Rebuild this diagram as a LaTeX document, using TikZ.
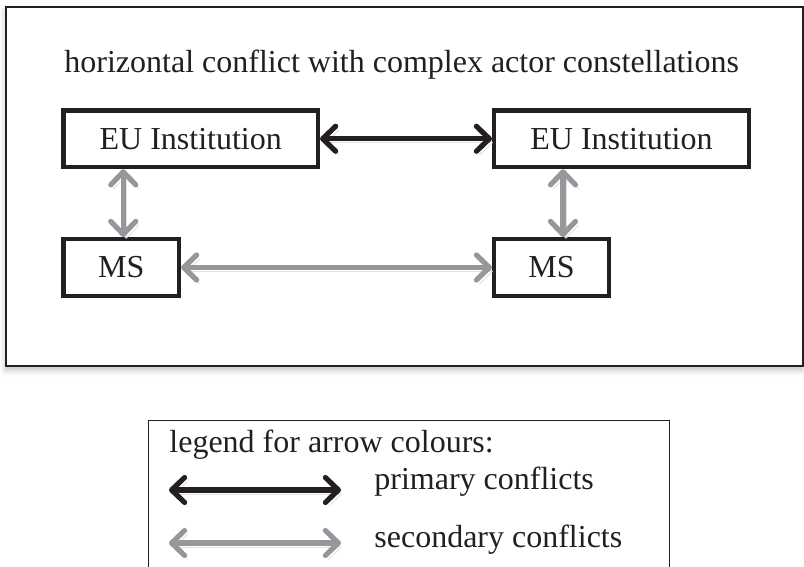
\documentclass[tikz,border=0pt]{standalone}
\usepackage{fontspec}
\setmainfont{Liberation Serif}
\usetikzlibrary{arrows.meta,shadows.blur}
\definecolor{ink}{RGB}{35,31,32}
\definecolor{arrgray}{RGB}{150,151,154}
\begin{document}
\begin{tikzpicture}[x=0.5pt,y=-0.5pt,
  font=\fontsize{16}{19}\selectfont,
  actor/.style={draw=ink, line width=2.2pt, inner sep=0pt, minimum height=28.3pt, text=ink},
  tipbarb/.tip={Straight Barb[length=6.5pt,width=12.5pt,round]},
  conn/.style={line width=2.6pt, tipbarb-tipbarb,
    preaction={draw=black!12, transform canvas={shift={(1.5pt,-2pt)}}}},
  prim/.style={conn, draw=ink},
  sec/.style={conn, draw=arrgray},
  lbl/.style={anchor=base west, inner sep=0pt, text=ink}]
\useasboundingbox (0,0) rectangle (804,567);
% outer frame
\draw[ink, line width=1pt, fill=white,
  blur shadow={shadow xshift=0pt, shadow yshift=-2pt, shadow blur radius=3pt, shadow opacity=25}]
  (5.5,7) rectangle (802.5,366);
\node[lbl] (title) at (64,73) {horizontal conflict with complex actor constellations};
% actors
\node[actor, minimum width=127.1pt] (EUL) at (190.75,138.75) {EU Institution};
\node[actor, minimum width=127.3pt] (EUR) at (621.5,138.75)  {EU Institution};
\node[actor, minimum width=57.6pt]  (MSL) at (121.25,267.5)  {MS};
\node[actor, minimum width=57.3pt]  (MSR) at (551.5,267.5)   {MS};
% conflicts
\draw[prim] (EUL) -- (EUR);
\draw[sec] (MSL) -- (MSR);
\draw[sec] ([xshift=1pt]MSL.north) -- ([xshift=1pt]MSL.north |- EUL.south);
\draw[sec] ([xshift=5.75pt]MSR.north) -- ([xshift=5.75pt]MSR.north |- EUR.south);
% legend
\node[draw=ink, line width=0.6pt, minimum width=260.5pt, minimum height=100pt,
  anchor=north west, inner sep=0pt] (legend) at (148,420) {};
\node[lbl] (legtitle) at (169,452) {legend for arrow colours:};
\coordinate (p1) at (169,490);
\coordinate (p2) at (341,490);
\draw[prim] (p1) -- (p2);
\node[lbl] (ptext) at (374,489) {primary conflicts};
\coordinate (s1) at (169,543);
\coordinate (s2) at (341,543);
\draw[sec] (s1) -- (s2);
\node[lbl] (stext) at (374,547) {secondary conflicts};
\end{tikzpicture}
\end{document}
